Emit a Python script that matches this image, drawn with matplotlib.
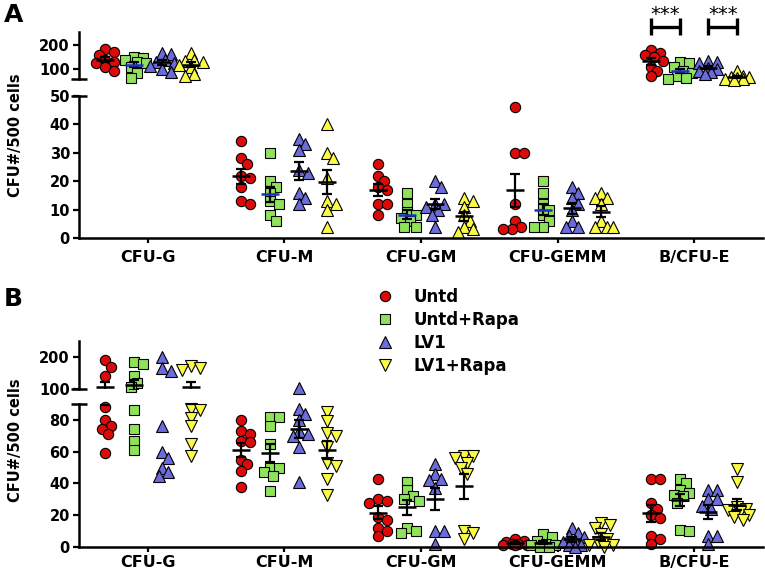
import numpy as np
import matplotlib
matplotlib.use('Agg')
import matplotlib.pyplot as plt
from matplotlib.lines import Line2D

plt.rcParams['font.family'] = ['DejaVu Sans']
plt.rcParams['font.weight'] = 'bold'

categories = ['CFU-G', 'CFU-M', 'CFU-GM', 'CFU-GEMM', 'B/CFU-E']
groups = ['Untd', 'Untd+Rapa', 'LV1', 'LV1+Rapa']
y_label = 'CFU#/500 cells'

# ---- Panel A values (per category) ----
a_untd = [[185, 170, 160, 140, 130, 125, 110, 95],
          [34, 28, 26, 22, 21, 18, 13, 12],
          [26, 22, 20, 18, 17, 12, 12, 8],
          [46, 30, 30, 12, 6, 4, 3, 3],
          [180, 168, 160, 150, 135, 110, 92, 72]]
a_untd_rapa = [[150, 148, 140, 132, 125, 110, 85, 65],
               [30, 20, 18, 16, 13, 12, 8, 6],
               [16, 12, 9, 8, 7, 6, 4, 4],
               [20, 16, 12, 10, 8, 6, 4, 4],
               [130, 125, 110, 95, 85, 75, 65, 60]]
a_lv1 = [[168, 165, 140, 130, 125, 115, 100, 90],
         [35, 33, 31, 24, 23, 16, 14, 12],
         [20, 18, 12, 12, 11, 10, 8, 4],
         [18, 16, 14, 12, 10, 6, 4, 4],
         [135, 130, 125, 105, 100, 95, 88, 82]]
a_lv1_rapa = [[168, 140, 135, 130, 118, 110, 82, 72],
              [40, 30, 28, 21, 13, 12, 10, 4],
              [14, 13, 11, 8, 6, 4, 3, 2],
              [16, 14, 14, 12, 6, 4, 4, 4],
              [95, 75, 70, 68, 65, 63, 60, 58]]

# ---- Panel B values (per category) ----
b_untd = [[190, 170, 140, 88, 80, 76, 74, 71, 59],
          [80, 73, 71, 67, 66, 55, 52, 48, 38],
          [43, 30, 29, 28, 19, 17, 12, 10, 7],
          [5, 4, 3, 2, 2, 1, 1, 1],
          [43, 43, 28, 24, 20, 18, 7, 5, 2]]
b_untd_rapa = [[185, 178, 140, 118, 105, 86, 74, 67, 61],
               [82, 82, 76, 65, 50, 50, 47, 45, 35],
               [41, 36, 32, 30, 29, 12, 10, 9],
               [8, 6, 4, 2, 1, 1, 0, 0],
               [43, 40, 36, 34, 33, 32, 28, 11, 10]]
b_lv1 = [[200, 165, 155, 76, 60, 56, 50, 47, 45],
         [102, 87, 84, 80, 73, 71, 70, 63, 41],
         [52, 46, 43, 42, 37, 10, 10, 2],
         [12, 9, 7, 6, 4, 3, 1, 1, 0],
         [36, 36, 30, 30, 26, 24, 7, 7, 2]]
b_lv1_rapa = [[172, 165, 160, 87, 86, 81, 76, 65, 57],
              [85, 79, 72, 70, 63, 53, 51, 43, 33],
              [57, 57, 56, 53, 50, 46, 10, 9, 5],
              [15, 14, 12, 8, 5, 3, 1, 1, 0],
              [49, 41, 25, 24, 23, 22, 20, 19, 17]]

a_upper_ticks = [100, 200]
a_lower_ticks = [0, 10, 20, 30, 40, 50]
b_upper_ticks = [100, 200]
b_lower_ticks = [0, 20, 40, 60, 80]

colors = ['#dd0a0a', '#8fe35a', '#6b6bdc', '#fbfb45']
a_markers = ['o', 's', '^', '^']
b_markers = ['o', 's', '^', 'v']
msize = {'o': 7.4, 's': 6.6, '^': 8.0, 'v': 8.0}
offsets = [-0.315, -0.105, 0.105, 0.315]

W, H = 765, 571
fig = plt.figure(figsize=(W / 100, H / 100), dpi=100)

def add_ax(top, bottom):
    return fig.add_axes([79 / W, 1 - bottom / H, 684 / W, (bottom - top) / H])

axA_up = add_ax(32, 79)
axA_lo = add_ax(96, 238)
axB_up = add_ax(341, 389)
axB_lo = add_ax(404, 547)

XL = (-0.505, 4.505)

def style(ax_up, ax_lo, ylim_up, ylim_lo, t_up, t_lo, xpad):
    for ax in (ax_up, ax_lo):
        ax.set_xlim(*XL)
        for s in ('top', 'right'):
            ax.spines[s].set_visible(False)
        ax.spines['left'].set_linewidth(1.8)
        ax.tick_params(axis='y', direction='out', length=4.5, width=1.6,
                       labelsize=10.5, pad=2)
        ax.patch.set_visible(False)
    ax_up.set_ylim(*ylim_up)
    ax_lo.set_ylim(*ylim_lo)
    ax_up.set_yticks(t_up)
    ax_lo.set_yticks(t_lo)
    ax_up.spines['bottom'].set_visible(False)
    ax_up.set_xticks([])
    ax_lo.spines['bottom'].set_linewidth(1.8)
    ax_lo.set_xticks(range(len(categories)))
    ax_lo.set_xticklabels(categories, fontsize=11.5, fontweight='bold')
    ax_lo.tick_params(axis='x', direction='out', length=3.5, width=1.6, pad=xpad)
    for lab in ax_up.get_yticklabels() + ax_lo.get_yticklabels():
        lab.set_fontweight('bold')
    # break marks
    ax_up.plot([-0.012, 0.012], [0, 0], transform=ax_up.transAxes, color='black',
               lw=1.8, clip_on=False, solid_capstyle='butt')
    ax_lo.plot([-0.012, 0.012], [1, 1], transform=ax_lo.transAxes, color='black',
               lw=1.8, clip_on=False, solid_capstyle='butt')

style(axA_up, axA_lo, (61, 253), (0, 50), a_upper_ticks, a_lower_ticks, 5.5)
style(axB_up, axB_lo, (100, 250), (0, 90), b_upper_ticks, b_lower_ticks, 2)

def pick_ax(v, ax_up, ax_lo):
    return ax_up if v > ax_lo.get_ylim()[1] else ax_lo

def swarm(xc, vals, ax_up, ax_lo, diam=9.5, step=3.0, kmax=4):
    px_unit = ax_lo.transData.transform((1, 0))[0] - ax_lo.transData.transform((0, 0))[0]
    order = sorted(range(len(vals)), key=lambda i: -vals[i])
    placed = []
    xs = [xc] * len(vals)
    cands = [0.0]
    for k in range(1, kmax + 1):
        cands += [k * step, -k * step]
    for i in order:
        ax = pick_ax(vals[i], ax_up, ax_lo)
        px, py = ax.transData.transform((xc, vals[i]))
        best, best_d = 0.0, -1
        for dx in cands:
            d = min([np.hypot(px + dx - qx, py - qy) for qx, qy in placed] + [1e9])
            if d >= diam * 0.75:
                best = dx
                break
            if d > best_d:
                best, best_d = dx, d
        placed.append((px + best, py))
        xs[i] = xc + best / px_unit
    return xs

def draw_panel(ax_up, ax_lo, data, markers, green_mean_blue):
    for gi, gdata in enumerate(data):
        for ci, vals in enumerate(gdata):
            xc = ci + offsets[gi]
            xs = swarm(xc, vals, ax_up, ax_lo)
            for ax in (ax_up, ax_lo):
                sel = [j for j, v in enumerate(vals) if pick_ax(v, ax_up, ax_lo) is ax]
                if sel:
                    ax.plot([xs[j] for j in sel], [vals[j] for j in sel],
                            ls='none', marker=markers[gi], ms=msize[markers[gi]],
                            mfc=colors[gi], mec='black', mew=0.8, clip_on=False,
                            zorder=2)
            m = float(np.mean(vals))
            sem = float(np.std(vals, ddof=1) / np.sqrt(len(vals)))
            lo_top = ax_lo.get_ylim()[1]
            up_bot = ax_up.get_ylim()[0]
            if lo_top < m < up_bot:
                continue
            mcol = '#1f2fc4' if (green_mean_blue and gi == 1) else 'black'
            for ax in (ax_up, ax_lo):
                ax.errorbar([xc], [m], yerr=[sem], fmt='none', ecolor='black',
                            elinewidth=1.6, capsize=3.8, capthick=1.6, zorder=3)
                ax.plot([xc - 0.066, xc + 0.066], [m, m], color=mcol, lw=1.8,
                        zorder=4, solid_capstyle='butt')

draw_panel(axA_up, axA_lo, [a_untd, a_untd_rapa, a_lv1, a_lv1_rapa], a_markers, True)
draw_panel(axB_up, axB_lo, [b_untd, b_untd_rapa, b_lv1, b_lv1_rapa], b_markers, False)

# significance brackets (panel A, B/CFU-E)
ci = categories.index('B/CFU-E')
for g1, g2 in [(0, 1), (2, 3)]:
    x1, x2 = ci + offsets[g1], ci + offsets[g2]
    yb = 273
    axA_up.plot([x1, x2], [yb, yb], color='black', lw=2.4, clip_on=False,
                solid_capstyle='butt')
    for xx in (x1, x2):
        axA_up.plot([xx, xx], [241, 310], color='black', lw=2.4, clip_on=False,
                    solid_capstyle='butt')
    axA_up.text((x1 + x2) / 2, 304, '***', ha='center', va='baseline',
                fontsize=14, fontweight='normal', clip_on=False)

# panel letters and y labels
fig.text(4 / W, 1 - 3 / H, 'A', fontsize=18, fontweight='bold', va='top', ha='left')
fig.text(4 / W, 1 - 287 / H, 'B', fontsize=18, fontweight='bold', va='top', ha='left')
fig.text(16 / W, 1 - 135 / H, y_label, rotation=90, fontsize=10.5,
         fontweight='bold', ha='center', va='center')
fig.text(16 / W, 1 - 440 / H, y_label, rotation=90, fontsize=10.5,
         fontweight='bold', ha='center', va='center')

handles = [Line2D([], [], ls='none', marker=b_markers[i], ms=msize[b_markers[i]],
                  mfc=colors[i], mec='black', mew=0.8) for i in range(4)]
fig.legend(handles, groups, loc='upper left', bbox_to_anchor=(377 / W, 1 - 288 / H),
           frameon=False, fontsize=12, handlelength=1.0, handletextpad=1.2,
           labelspacing=0.3, borderpad=0, borderaxespad=0,
           prop={'weight': 'bold', 'size': 12})

fig.savefig('out.png', dpi=100)
